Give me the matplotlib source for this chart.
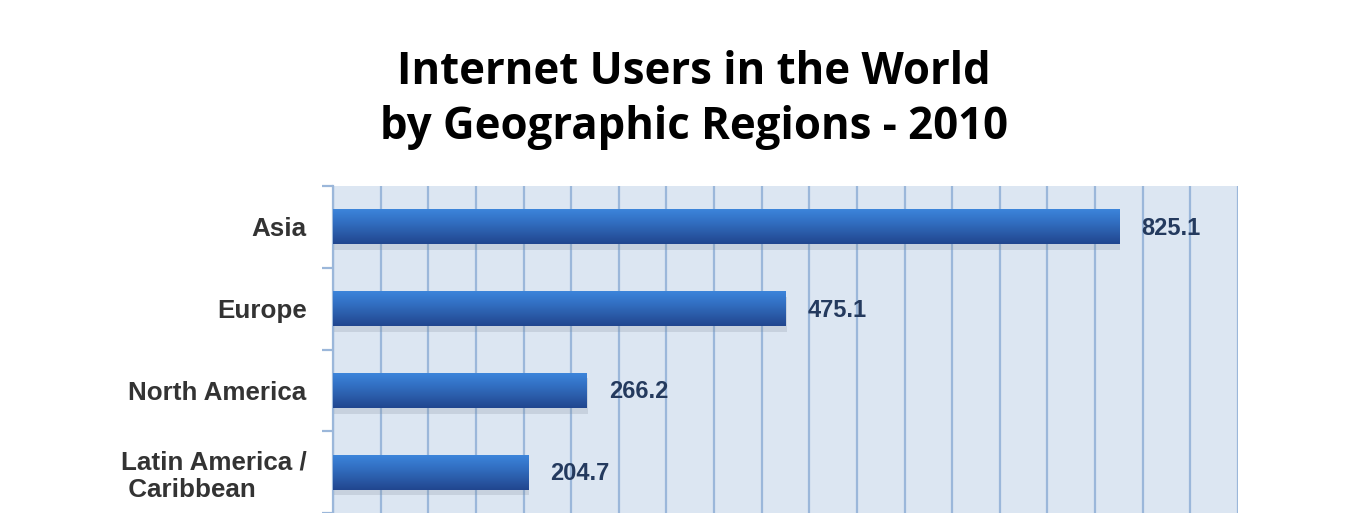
import numpy as np
import matplotlib
matplotlib.use("Agg")
import matplotlib.pyplot as plt
from matplotlib.colors import LinearSegmentedColormap
import matplotlib.patheffects as pe

regions = ["Asia", "Europe", "North America", "Latin America /\n Caribbean"]
users_millions = [825.1, 475.1, 266.2, 204.7]
value_labels = ["825.1", "475.1", "266.2", "204.7"]
title_text = "Internet Users in the World\nby Geographic Regions - 2010"

W, H = 1349, 513
fig = plt.figure(figsize=(W / 100, H / 100), dpi=100)
fig.patch.set_facecolor("white")

ax_left, ax_right, ax_top = 333 / W, 1238 / W, 1 - 186 / H
ax = fig.add_axes([ax_left, 0.0, ax_right - ax_left, ax_top])
ax.set_facecolor("#DCE6F2")

grid_c = "#9BB7DA"
ypos = np.arange(len(regions))
bars = ax.barh(ypos, users_millions, height=0.43, color="#2E65B5", zorder=3)

cmap = LinearSegmentedColormap.from_list(
    "barblue", ["#3D86DC", "#3372C6", "#2B5DAA", "#21468F"])
grad = np.linspace(0, 1, 64).reshape(-1, 1)
for b in bars:
    b.set_path_effects([pe.SimplePatchShadow(offset=(1, -4), shadow_rgbFace="#7F8A99", alpha=0.22),
                        pe.Normal()])
    x0, y0 = b.get_x(), b.get_y()
    im = ax.imshow(grad, cmap=cmap, aspect="auto", interpolation="bilinear",
                   extent=[x0, x0 + b.get_width(), y0 + b.get_height(), y0], zorder=4)
    im.set_clip_path(b)

for b, lab in zip(bars, value_labels):
    ax.annotate(lab, (b.get_width(), b.get_y() + b.get_height() / 2),
                xytext=(16, -1), textcoords="offset points", ha="left", va="center",
                fontsize=17, fontweight="bold", color="#243A5E",
                family=["Liberation Sans", "DejaVu Sans"], zorder=5)

ax.set_xlim(0, 950)
ax.set_ylim(-0.5 + (H - 186) / 83.0, -0.5)
ax.set_xticks(np.arange(0, 951, 50))
ax.xaxis.grid(True, color=grid_c, linewidth=1.6, zorder=1)
ax.set_axisbelow(True)
ax.tick_params(axis="x", length=0, labelbottom=False)

ax.set_yticks(ypos)
ax.set_yticklabels(regions, fontsize=18.7, fontweight="bold", color="#333333",
                   family=["Liberation Sans", "DejaVu Sans"])
for t in ax.get_yticklabels():
    t.set_multialignment("left")
ax.tick_params(axis="y", which="major", length=0, pad=19)
ax.set_yticks(np.arange(-0.5, 4.0, 1.0), minor=True)
ax.tick_params(axis="y", which="minor", length=8, width=1.6, color=grid_c)

for s in ["top", "right", "bottom"]:
    ax.spines[s].set_visible(False)
ax.spines["left"].set_color(grid_c)
ax.spines["left"].set_linewidth(1.6)

fig.text(694 / W, 1 - 100 / H, title_text, ha="center", va="center",
         fontsize=31.5, fontweight="bold", family=["Open Sans", "DejaVu Sans"],
         color="black", linespacing=1.3)

fig.savefig("out.png", dpi=100)
